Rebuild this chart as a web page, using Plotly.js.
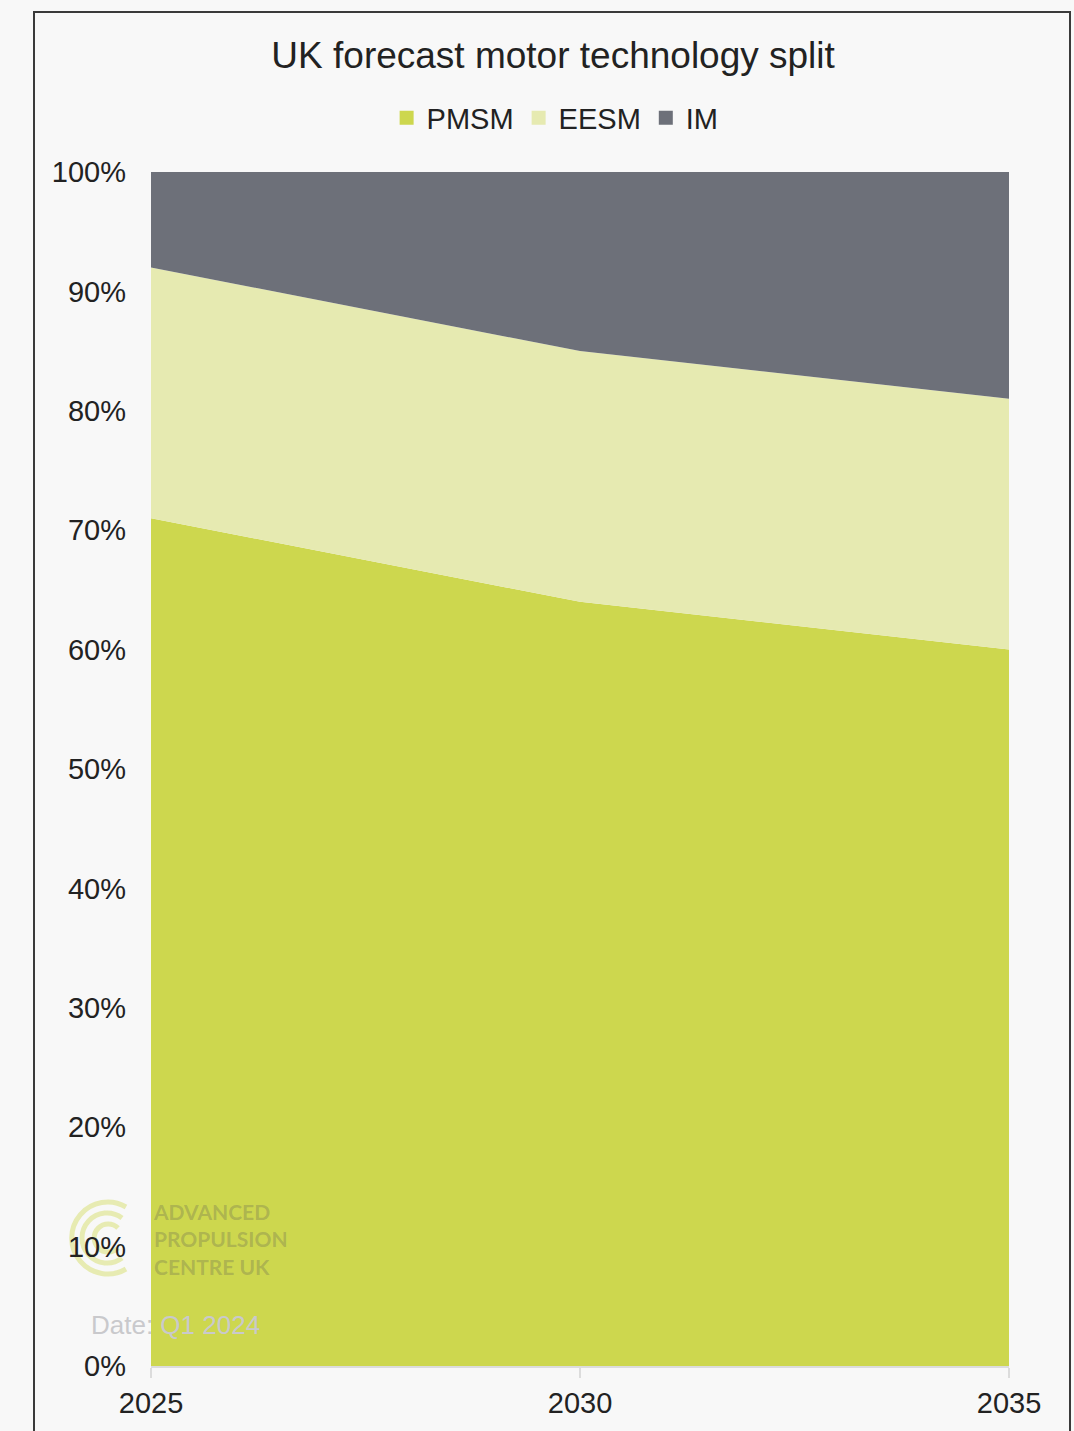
<!DOCTYPE html>
<html>
<head>
<meta charset="utf-8">
<script src="https://cdn.plot.ly/plotly-3.0.1.min.js"></script>
<style>
  html, body { margin: 0; padding: 0; background: #f8f8f8; width: 1074px; height: 1431px; overflow: hidden; }
  #frame { position: absolute; left: 33px; top: 11px; width: 1038px; height: 1440px; border: 2px solid #3a3a3a; box-sizing: border-box; }
  #chart { position: absolute; left: 0; top: 0; width: 1074px; height: 1431px; }
</style>
</head>
<body>
<div id="frame"></div>
<div id="chart"></div>
<script>
const years = [2025, 2030, 2035];
const pmsm = [71, 64, 60];
const eesm = [21, 21, 21];
const im = [8, 15, 19];
const seriesNames = ['PMSM', 'EESM', 'IM'];
const yTickVals = [0, 10, 20, 30, 40, 50, 60, 70, 80, 90, 100];
const yTickText = ['0%', '10%', '20%', '30%', '40%', '50%', '60%', '70%', '80%', '90%', '100%'];
const logoLines = ['ADVANCED', 'PROPULSION', 'CENTRE UK'];
const dateText = 'Date: Q1 2024';

const colors = { PMSM: '#cdd74e', EESM: '#e6eab1', IM: '#6d7079' };

function area(name, vals) {
  return {
    type: 'scatter', mode: 'none', name: name, x: years, y: vals,
    stackgroup: 'one', fillcolor: colors[name], line: { width: 0, color: colors[name] },
    showlegend: false, hoverinfo: 'x+y+name'
  };
}
function legendEntry(name) {
  return {
    type: 'scatter', mode: 'markers', name: name, x: [null], y: [null],
    marker: { symbol: 'square', size: 14, color: colors[name], line: { width: 0 } },
    showlegend: true, hoverinfo: 'skip'
  };
}

const data = [area('PMSM', pmsm), area('EESM', eesm), area('IM', im)]
  .concat(seriesNames.map(legendEntry));

const logoSvg = "<svg xmlns='http://www.w3.org/2000/svg' width='80' height='80' viewBox='0 0 80 80'>" +
  "<g fill='none' stroke='#e7ebb2' stroke-width='5' stroke-linecap='butt'>" +
  "<path d='M 60 9 A 36 36 0 1 0 60 71'/>" +
  "<path d='M 56 20 A 25 25 0 1 0 56 60'/>" +
  "<path d='M 52 30 A 14 14 0 1 0 52 50'/>" +
  "</g></svg>";

const layout = {
  width: 1074, height: 1431,
  margin: { l: 151, r: 65, t: 172, b: 65, pad: 0 },
  paper_bgcolor: 'rgba(0,0,0,0)',
  plot_bgcolor: 'rgba(0,0,0,0)',
  font: { family: 'Liberation Sans, Arial, sans-serif', color: '#222222' },
  title: {
    text: 'UK forecast motor technology split',
    font: { size: 37, color: '#222222', family: 'Liberation Sans, Arial, sans-serif' },
    x: 0.515, xanchor: 'center', y: 1 - 55 / 1431, yanchor: 'middle', yref: 'container'
  },
  showlegend: true,
  legend: {
    orientation: 'h', x: 0.471, xanchor: 'center', y: 1 - 118 / 1431, yanchor: 'middle', yref: 'container',
    font: { size: 29, color: '#222222' }, itemwidth: 30, traceorder: 'normal',
    bgcolor: 'rgba(0,0,0,0)', tracegroupgap: 0
  },
  xaxis: {
    type: 'linear', range: [2025, 2035], tickvals: years, ticktext: years.map(String),
    showgrid: false, zeroline: false, showline: true, linecolor: '#dcdcdc', linewidth: 2,
    ticks: 'outside', ticklen: 10, tickcolor: '#dcdcdc', tickwidth: 2,
    tickfont: { size: 29, color: '#222222' }, fixedrange: true
  },
  yaxis: {
    range: [0, 100], tickvals: yTickVals, ticktext: yTickText,
    showgrid: false, zeroline: false, showline: false, ticks: '',
    ticklabelstandoff: 24,
    tickfont: { size: 29, color: '#222222' }, fixedrange: true
  },
  images: [{
    source: 'data:image/svg+xml;charset=utf-8,' + encodeURIComponent(logoSvg),
    xref: 'paper', yref: 'paper',
    x: (66 - 151) / 858, y: (1366 - 1198) / 1194,
    sizex: 80 / 858, sizey: 80 / 1194,
    xanchor: 'left', yanchor: 'top', sizing: 'stretch', layer: 'below', opacity: 1
  }],
  annotations: [
    {
      text: logoLines.join('<br>'), xref: 'paper', yref: 'paper',
      x: (152 - 151) / 858, y: (1366 - 1239) / 1194, xanchor: 'left', yanchor: 'middle',
      align: 'left', showarrow: false, borderpad: 0,
      font: { size: 21, color: 'rgba(95,95,85,0.30)', family: 'Lato, Noto Sans, sans-serif', weight: 700 }
    },
    {
      text: dateText, xref: 'paper', yref: 'paper',
      x: (89 - 151) / 858, y: (1366 - 1325) / 1194, xanchor: 'left', yanchor: 'middle',
      showarrow: false, font: { size: 26, color: '#c9c9cc' }
    }
  ]
};

Plotly.newPlot('chart', data, layout, { displayModeBar: false, staticPlot: true });
</script>
</body>
</html>
